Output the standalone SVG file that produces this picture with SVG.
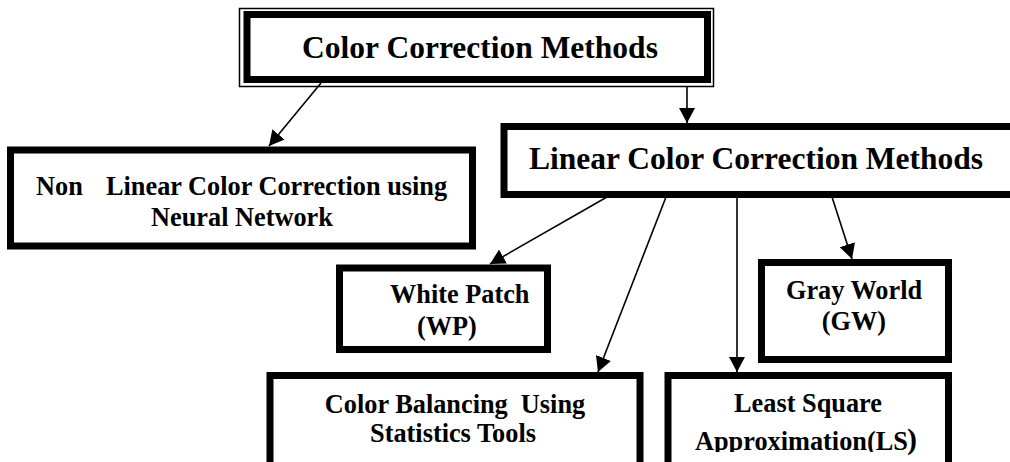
<svg xmlns="http://www.w3.org/2000/svg" width="1010" height="462" viewBox="0 0 1010 462">
  <style>
    .box { fill: #fff; stroke: #000; stroke-width: 7; }
    .thin { fill: none; stroke: #000; stroke-width: 1.5; }
    .lbl { font-family: "Liberation Serif", "Times New Roman", serif; font-weight: bold; fill: #000; font-size: 26.3px; }
    .big { font-size: 31.5px; }
    .mid { text-anchor: middle; }
    .conn { stroke: #000; stroke-width: 1.6; fill: none; marker-end: url(#head); }
  </style>
  <defs>
    <marker id="head" markerUnits="userSpaceOnUse" markerWidth="16" markerHeight="16" viewBox="0 0 16 16" refX="15" refY="8" orient="auto">
      <path d="M0,0 L15,8 L0,16 Z" fill="#000"/>
    </marker>
    <clipPath id="lsClip">
      <rect x="660" y="380" width="300" height="72"/>
    </clipPath>
  </defs>

  <rect width="1010" height="462" fill="#fff"/>

  <!-- connectors -->
  <g id="connectors">
    <line class="conn" x1="687" y1="87" x2="687" y2="123"/>
    <line class="conn" x1="321" y1="83" x2="269" y2="146"/>
    <line class="conn" x1="607" y1="197" x2="490" y2="264"/>
    <line class="conn" x1="666" y1="197" x2="598" y2="372"/>
    <line class="conn" x1="737" y1="197" x2="737" y2="372"/>
    <line class="conn" x1="832" y1="197" x2="852" y2="259"/>
  </g>

  <!-- root -->
  <g id="color-correction-methods">
    <rect class="thin" x="239.5" y="8.5" width="474" height="78"/>
    <rect class="box" x="247" y="14.5" width="460.5" height="65"/>
    <text class="lbl big mid" x="480" y="58">Color Correction Methods</text>
  </g>

  <g id="non-linear">
    <rect class="box" x="10.5" y="150" width="462" height="96"/>
    <text class="lbl" x="36" y="195">Non</text>
    <text class="lbl" x="106" y="195">Linear Color Correction using</text>
    <text class="lbl mid" x="242" y="226">Neural Network</text>
  </g>

  <g id="linear">
    <rect class="box" x="504" y="126.5" width="530" height="68"/>
    <text class="lbl big" x="529" y="169">Linear Color Correction Methods</text>
  </g>

  <g id="white-patch">
    <rect class="box" x="339.5" y="268" width="208" height="81.5"/>
    <text class="lbl" x="390" y="303">White Patch</text>
    <text class="lbl" x="417" y="335">(WP)</text>
  </g>

  <g id="gray-world">
    <rect class="box" x="761.5" y="262.5" width="187" height="97"/>
    <text class="lbl mid" x="854" y="299">Gray World</text>
    <text class="lbl mid" x="854" y="330">(GW)</text>
  </g>

  <g id="color-balancing">
    <rect class="box" x="270" y="375.5" width="370" height="100"/>
    <text class="lbl mid" x="455" y="413" xml:space="preserve">Color Balancing  Using</text>
    <text class="lbl mid" x="453" y="442">Statistics Tools</text>
  </g>

  <g id="least-square">
    <rect class="box" x="668" y="375.5" width="280.5" height="100"/>
    <text class="lbl mid" x="808" y="412">Least Square</text>
    <g clip-path="url(#lsClip)">
      <text class="lbl" x="695" y="450">Approximation(LS</text>
    </g>
    <text class="lbl" x="907" y="449" style="font-size:30px;">)</text>
  </g>
</svg>
